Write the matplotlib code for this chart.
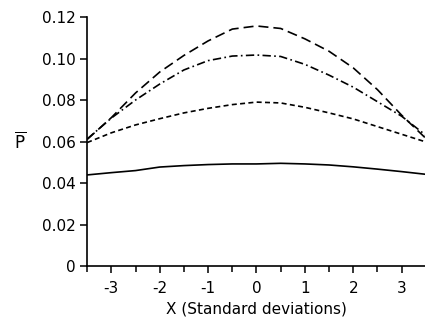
import matplotlib
matplotlib.use("Agg")
import matplotlib.pyplot as plt
from matplotlib.ticker import MultipleLocator

# x positions (standard deviations) and the four P-bar curves
x = [-3.5, -3, -2.5, -2, -1.5, -1, -0.5, 0, 0.5, 1, 1.5, 2, 2.5, 3, 3.5]
p_dashed = [0.061, 0.0715, 0.0834, 0.0935, 0.1015, 0.1085, 0.1142, 0.1157,
            0.1145, 0.1095, 0.1035, 0.0955, 0.085, 0.0727, 0.0615]
p_dashdot = [0.0612, 0.0713, 0.080, 0.0877, 0.0945, 0.099, 0.1012, 0.1017,
             0.1010, 0.0972, 0.092, 0.0862, 0.0792, 0.0722, 0.063]
p_short = [0.0595, 0.0642, 0.068, 0.071, 0.0738, 0.076, 0.0778, 0.079,
           0.0786, 0.0765, 0.0738, 0.0709, 0.0672, 0.0635, 0.0598]
p_solid = [0.0439, 0.045, 0.046, 0.0477, 0.0484, 0.0489, 0.0492, 0.0492,
           0.0495, 0.0492, 0.0487, 0.0478, 0.0467, 0.0455, 0.0442]

xticks = [-3, -2, -1, 0, 1, 2, 3]
yticks = [0, 0.02, 0.04, 0.06, 0.08, 0.10, 0.12]
ytick_labels = ["0", "0.02", "0.04", "0.06", "0.08", "0.10", "0.12"]

plt.rcParams["font.family"] = "DejaVu Sans"
plt.rcParams["mathtext.fontset"] = "dejavusans"

fig = plt.figure(figsize=(4.25, 3.28), dpi=100)
ax = fig.add_axes([0.205, 0.189, 0.797, 0.759])

ax.plot(x, p_dashed, color="black", lw=1.2, ls=(0, (6, 3)))
ax.plot(x, p_dashdot, color="black", lw=1.2, ls=(0, (5, 2, 1, 2)))
ax.plot(x, p_short, color="black", lw=1.2, ls=(0, (3, 2)))
ax.plot(x, p_solid, color="black", lw=1.2)

ax.set_xlim(-3.5, 3.5)
ax.set_ylim(0, 0.12)
ax.set_xticks(xticks)
ax.set_xticklabels([str(t) for t in xticks])
ax.xaxis.set_minor_locator(MultipleLocator(0.5))
ax.set_yticks(yticks)
ax.set_yticklabels(ytick_labels)

for s in ["top", "right"]:
    ax.spines[s].set_visible(False)
ax.spines["left"].set_linewidth(1.2)
ax.spines["bottom"].set_linewidth(1.2)

ax.tick_params(axis="both", which="major", direction="out", length=5,
               width=1.1, labelsize=11)
ax.tick_params(axis="x", which="minor", direction="out", length=4, width=1.1)
ax.tick_params(axis="x", pad=6)
ax.tick_params(axis="y", pad=3)

ax.set_xlabel("X (Standard deviations)", fontsize=11, labelpad=4)
fig.text(0.048, 0.567, r"$\overline{\mathrm{P}}$", fontsize=12,
         ha="center", va="center")

fig.savefig("out.png", dpi=100)
